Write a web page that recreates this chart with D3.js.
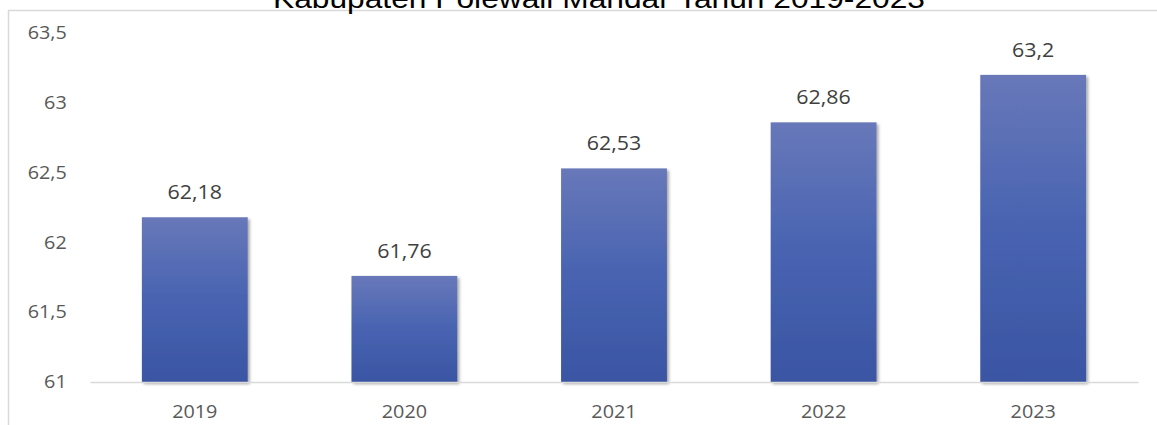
<!DOCTYPE html>
<html lang="id">
<head>
    <meta charset="UTF-8">
    <title>Kabupaten Polewali Mandar Tahun 2019-2023</title>
    <script src="https://cdn.jsdelivr.net/npm/d3@7"></script>
    <style>
        body { margin: 0; background: #fff; }
        svg { display: block; }
    </style>
</head>
<body>

<script>
    var years = ["2019", "2020", "2021", "2022", "2023"];
    var values = [62.18, 61.76, 62.53, 62.86, 63.2];
    var yTicks = [61, 61.5, 62, 62.5, 63, 63.5];
    var title = "Kabupaten Polewali Mandar Tahun 2019-2023";

    var width = 1157;
    var height = 425;
    var margin = {left: 90, right: 19, top: 33, bottom: 43};

    var svg = d3.select('body')
            .append('svg')
            .attr('width', width)
            .attr('height', height);

    var defs = svg.append('defs');
    var grad = defs.append('linearGradient')
            .attr('id', 'barGrad')
            .attr('x1', 0).attr('y1', 0)
            .attr('x2', 0).attr('y2', 1);
    grad.append('stop').attr('offset', '0%').attr('stop-color', '#6878b9');
    grad.append('stop').attr('offset', '50%').attr('stop-color', '#4863b1');
    grad.append('stop').attr('offset', '100%').attr('stop-color', '#3a55a3');

    var shadow = defs.append('filter')
            .attr('id', 'shadow')
            .attr('x', '-10%').attr('y', '-10%')
            .attr('width', '130%').attr('height', '130%');
    shadow.append('feDropShadow')
            .attr('dx', 2).attr('dy', 2)
            .attr('stdDeviation', 1.5)
            .attr('flood-color', '#000')
            .attr('flood-opacity', 0.35);

    // frame lines (chart area border, partly cropped)
    svg.append('line')
            .attr('x1', 8.5).attr('x2', 8.5)
            .attr('y1', 10).attr('y2', height)
            .attr('stroke', '#d9d9d9').attr('stroke-width', 1.5);
    svg.append('line')
            .attr('x1', 8).attr('x2', width)
            .attr('y1', 10.5).attr('y2', 10.5)
            .attr('stroke', '#d9d9d9').attr('stroke-width', 1.5);

    // title, cut off at the top like in the source image
    svg.append('text')
            .attr('x', 599)
            .attr('y', 8)
            .attr('text-anchor', 'middle')
            .attr('font-family', 'Liberation Sans, Arial, sans-serif')
            .attr('font-size', 27)
            .attr('textLength', 652)
            .attr('lengthAdjust', 'spacingAndGlyphs')
            .attr('fill', '#000')
            .text(title);

    var x = d3.scaleBand()
            .domain(years)
            .range([margin.left, width - margin.right])
            .paddingInner(0.495)
            .paddingOuter(0.2475);

    var y = d3.scaleLinear()
            .domain([61, 63.5])
            .range([height - margin.bottom, margin.top]);

    var fmt = function (v) { return String(v).replace('.', ','); };

    // y axis labels
    svg.append('g')
            .attr('transform', 'translate(' + (margin.left - 20) + ',0)')
            .call(d3.axisLeft(y).tickValues(yTicks).tickSize(0).tickFormat(fmt))
            .call(function (g) {
                g.select('.domain').remove();
                g.selectAll('text')
                        .attr('font-family', 'Open Sans, sans-serif')
                        .attr('font-size', 18)
                        .attr('fill', '#595959')
                        .attr('transform', 'scale(1.1,1)');
            });

    // bars
    svg.append('g')
            .selectAll('rect')
            .data(values)
            .enter()
            .append('rect')
            .attr('x', function (d, i) { return x(years[i]); })
            .attr('y', function (d) { return y(d); })
            .attr('width', x.bandwidth())
            .attr('height', function (d) { return y(61) - y(d); })
            .attr('fill', 'url(#barGrad)')
            .attr('filter', 'url(#shadow)');

    // x axis
    svg.append('g')
            .attr('transform', 'translate(0,' + (height - margin.bottom) + ')')
            .call(d3.axisBottom(x).tickSize(0).tickPadding(23))
            .call(function (g) {
                g.select('.domain')
                        .attr('stroke', '#d9d9d9')
                        .attr('stroke-width', 1.5);
                g.selectAll('text')
                        .attr('font-family', 'Open Sans, sans-serif')
                        .attr('font-size', 18)
                        .attr('fill', '#595959')
                        .attr('transform', 'scale(1.1,1)');
            });

    // value labels
    svg.append('g')
            .selectAll('text')
            .data(values)
            .enter()
            .append('text')
            .attr('transform', function (d, i) {
                return 'translate(' + (x(years[i]) + x.bandwidth() / 2) + ',' + (y(d) - 18) + ') scale(1.07,1)';
            })
            .attr('text-anchor', 'middle')
            .attr('font-family', 'Open Sans, sans-serif')
            .attr('font-size', 20)
            .attr('fill', '#404040')
            .text(function (d) { return fmt(d); });
</script>
</body>
</html>
